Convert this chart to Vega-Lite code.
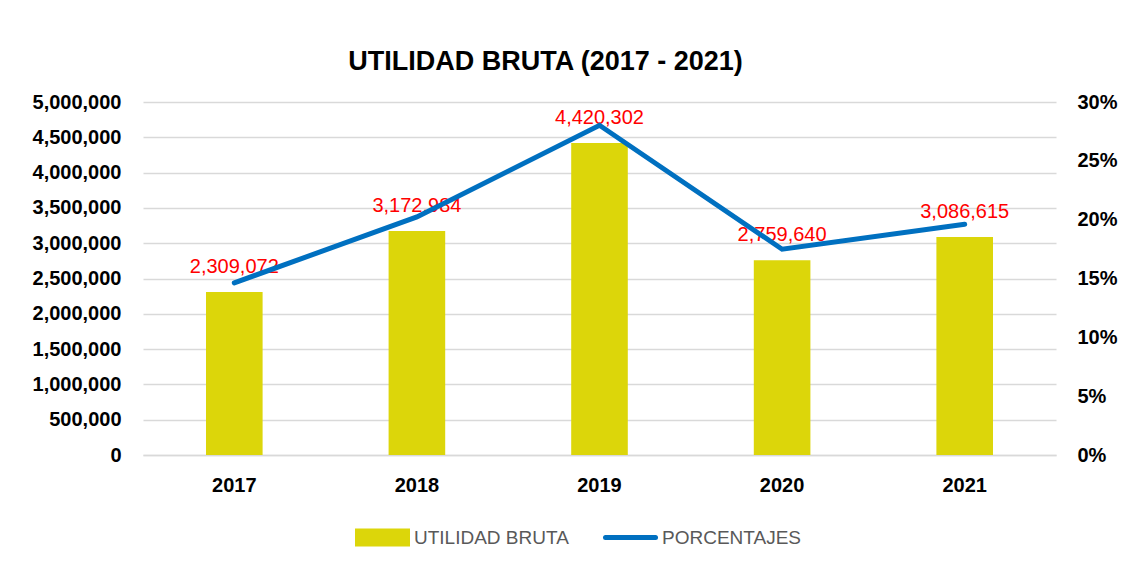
{
  "$schema": "https://vega.github.io/schema/vega-lite/v6.json",
  "autosize": {"type": "none"},
  "width": 913,
  "height": 353,
  "padding": {"left": 143, "top": 102, "right": 66, "bottom": 111},
  "background": "white",
  "config": {"view": {"stroke": null}, "font": "Liberation Sans"},
  "title": {"text": "UTILIDAD BRUTA (2017 - 2021)", "fontSize": 27, "fontWeight": "bold", "color": "#000000", "anchor": "middle", "dx": -54, "offset": 16},
  "data": {"values": [
    {"anio": "2017", "utilidad": 2309072, "porcentaje": 0.1463},
    {"anio": "2018", "utilidad": 3172984, "porcentaje": 0.2023},
    {"anio": "2019", "utilidad": 4420302, "porcentaje": 0.2802},
    {"anio": "2020", "utilidad": 2759640, "porcentaje": 0.1749},
    {"anio": "2021", "utilidad": 3086615, "porcentaje": 0.1961}
  ]},
  "encoding": {
    "x": {"field": "anio", "type": "nominal", "title": null,
      "scale": {"paddingInner": 0.69, "paddingOuter": 0.345},
      "axis": {"labelAngle": 0, "labelFontSize": 20, "labelFontWeight": "bold", "labelColor": "#000000", "ticks": false, "tickSize": 0, "labelPadding": 20, "domainColor": "#D9D9D9", "domainWidth": 1.5, "grid": false}}
  },
  "layer": [
    {
      "encoding": {
        "y": {"field": "utilidad", "type": "quantitative", "title": null,
          "scale": {"domain": [0, 5000000], "nice": false},
          "axis": {"values": [0, 500000, 1000000, 1500000, 2000000, 2500000, 3000000, 3500000, 4000000, 4500000, 5000000], "format": ",d", "labelOverlap": false, "labelFontSize": 20, "labelFontWeight": "bold", "labelColor": "#000000", "ticks": false, "tickSize": 0, "labelPadding": 22, "domain": false, "grid": true, "gridColor": "#D9D9D9", "gridWidth": 1.5}}
      },
      "layer": [
        {
          "mark": {"type": "bar"},
          "encoding": {
            "color": {"datum": "UTILIDAD BRUTA", "type": "nominal",
              "scale": {"domain": ["UTILIDAD BRUTA", "PORCENTAJES"], "range": ["#DCD60A", "#0070C0"]},
              "legend": {"title": null, "orient": "none", "legendX": 212, "legendY": 408, "direction": "horizontal", "padding": 0,
                "labelFontSize": 19, "labelColor": "#595959", "labelOffset": 4, "columnPadding": 26, "symbolSize": 2500,
                "labelLimit": 300,
                "encode": {"symbols": {"update": {
                  "shape": [{"test": "datum.value === 'PORCENTAJES'", "value": "M-1,-0.26M-1,0H1M1,0.26"}, {"value": "M-1,-0.26H1V0.26H-1Z"}],
                  "size": {"value": 2500},
                  "fill": [{"test": "datum.value === 'PORCENTAJES'", "value": "transparent"}, {"value": "#DCD60A"}],
                  "stroke": [{"test": "datum.value === 'PORCENTAJES'", "value": "#0070C0"}, {"value": "transparent"}],
                  "strokeWidth": {"value": 5},
                  "strokeCap": {"value": "round"},
                  "opacity": {"value": 1}
                }}}}}
          }
        },
        {
          "mark": {"type": "text", "color": "#FF0000", "fontSize": 20, "dy": -25, "baseline": "middle"},
          "encoding": {
            "text": {"field": "utilidad", "type": "quantitative", "format": ",d"}
          }
        }
      ]
    },
    {
      "mark": {"type": "line", "strokeWidth": 5, "strokeCap": "round", "strokeJoin": "miter"},
      "encoding": {
        "y": {"field": "porcentaje", "type": "quantitative", "title": null,
          "scale": {"domain": [0, 0.3]},
          "axis": {"orient": "right", "values": [0, 0.05, 0.1, 0.15, 0.2, 0.25, 0.3], "format": ".0%", "labelOverlap": false, "labelFontSize": 20, "labelFontWeight": "bold", "labelColor": "#000000", "ticks": false, "tickSize": 0, "labelPadding": 21, "domain": false, "grid": false}},
        "color": {"datum": "PORCENTAJES", "type": "nominal"}
      }
    }
  ],
  "resolve": {"scale": {"y": "independent"}}
}
